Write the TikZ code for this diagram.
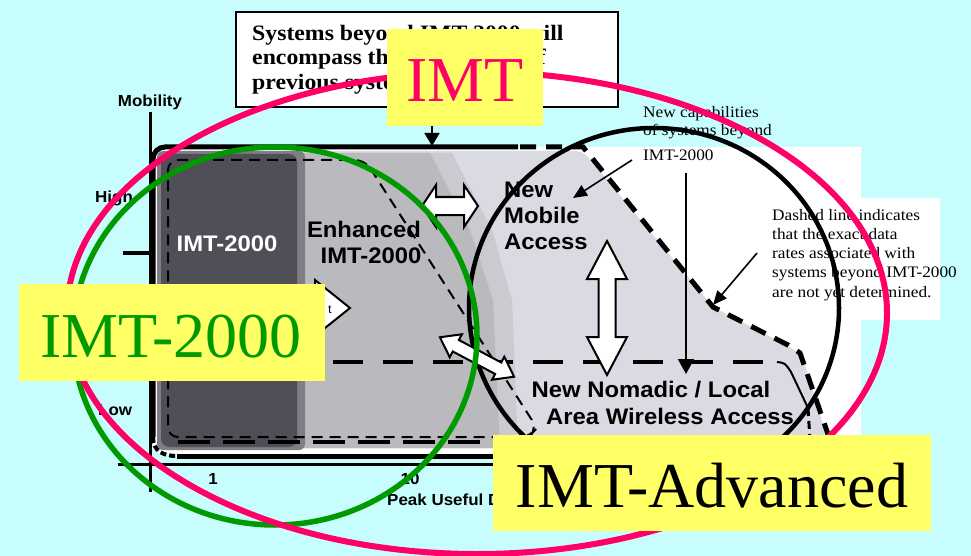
\documentclass[tikz,border=0pt]{standalone}
\usepackage{fontspec}
\setmainfont{Liberation Serif}
\newfontfamily\serifwide[FakeStretch=1.08]{Liberation Serif}
\newfontfamily\sanswide[FakeStretch=1.06]{Liberation Sans}
\usetikzlibrary{arrows.meta}
\definecolor{bgcyan}{RGB}{199,253,253}
\definecolor{imtpink}{RGB}{255,0,102}
\definecolor{imtgreen}{RGB}{0,153,0}
\definecolor{labelyellow}{RGB}{255,255,102}
\definecolor{darkcol}{RGB}{80,78,86}
\definecolor{darkedge}{RGB}{128,126,132}
\definecolor{enhgray}{RGB}{186,186,190}
\definecolor{enhedge}{RGB}{202,202,208}
\definecolor{lightfill}{RGB}{218,218,226}
\newcommand{\blockdblarrow}[7]{%
\begin{scope}[shift={(#1,#2)},rotate=#3]
\draw[line width=2pt, fill=white, line join=miter]
 (-#4,0) -- (-#4+#5,#6) -- (-#4+#5,#7) -- (#4-#5,#7) -- (#4-#5,#6) -- (#4,0)
 -- (#4-#5,-#6) -- (#4-#5,-#7) -- (-#4+#5,-#7) -- (-#4+#5,-#6) -- cycle;
\end{scope}}
\begin{document}
\begin{tikzpicture}[x=1pt,y=-1pt,
  topbold/.style={font=\serifwide\bfseries\fontsize{22}{25}\selectfont, inner sep=0, anchor=base west},
  ann/.style={font=\serifwide\fontsize{16}{19}\selectfont, inner sep=0, anchor=base west},
  charttext/.style={font=\sanswide\bfseries\fontsize{22.5}{26}\selectfont, inner sep=0},
  axislabel/.style={font=\sanswide\bfseries\fontsize{16}{19}\selectfont, inner sep=0},
  biglabel/.style={font=\fontsize{64}{70}\selectfont, inner sep=0, anchor=base},
  thickdash/.style={line width=5pt, dash pattern=on 16pt off 10pt},
  thindash/.style={line width=2pt, dash pattern=on 11pt off 7pt},
  annarrow/.style={line width=1.6pt, -{Triangle[length=14pt,width=12pt]}}
]
\useasboundingbox (0,0) rectangle (971,556);
\fill[bgcyan] (0,0) rectangle (971,556);

% top statement box
\draw[line width=2pt, fill=white] (236,12) rectangle (618,107);
\node[topbold] (boxl1) at (252,41) {Systems beyond IMT-2000 will};
\node[topbold] (boxl2) at (252,65) {encompass the capabilities of};
\node[topbold] (boxl3) at (252,90) {previous systems};
\coordinate (boxbottom) at (432,107);
\coordinate (frametop) at (432,146);
\draw[line width=1.6pt, -{Triangle[length=13pt,width=15pt]}] (boxbottom) -- (frametop);

% white annotation area
\fill[white] (515,147) -- (861,147) -- (861,198) -- (940,198) -- (940,320) -- (861,320) -- (861,448) -- (515,448) -- cycle;

% chart fills
\fill[white, rounded corners=12pt] (153,148) rectangle (520,455);
\fill[lightfill, rounded corners=8pt] (158,151) -- (583,151) -- (713,307) -- (790,347) -- (802,355) -- (830,448) -- (158,448) -- cycle;
\fill[enhedge] (297,153) -- (452,153) -- (492,230) -- (512,300) -- (518,448) -- (297,448) -- cycle;
\fill[enhgray] (297,153) -- (430,153) -- (470,230) -- (493,300) -- (500,448) -- (297,448) -- cycle;
\fill[darkedge, rounded corners=6pt] (157,151) rectangle (305,450);
\fill[darkcol, rounded corners=8pt] (161,154) rectangle (297,447);

% dashed boundaries
\draw[thindash, rounded corners=10pt] (365,160) -- (537,428) -- (530,437) -- (168,437) -- (168,160) -- cycle;
\draw[line width=4pt, dash pattern=on 30pt off 20pt] (333,362) -- (777,362);
\draw[line width=2pt] (777,362) .. controls (785,363) .. (791,372) -- (808,408);
\draw[line width=3pt, dash pattern=on 8pt off 5pt] (808,408) -- (810,440);
\draw[line width=4pt, dash pattern=on 32pt off 13pt] (178,442) -- (812,442);
\draw[thickdash] (520,147) -- (583,147) -- (713,307) -- (788,345) -- (800,353) -- (830,440);

% frame and axes
\draw[line width=5pt, rounded corners=12pt] (153,437) -- (153,147) -- (518,147);
\draw[line width=5pt] (177,456) -- (520,456);
\draw[line width=4pt, dash pattern=on 6pt off 3pt] (153,437) .. controls (153,451) and (163,456) .. (177,456);
\draw[line width=3pt] (150,112) -- (150,492);
\draw[line width=3pt] (118,464) -- (520,464);
\draw[line width=3.5pt] (123,253) -- (150,253);

% axis labels
\node[axislabel, anchor=base] (mobility) at (150,107) {Mobility};
\node[axislabel, anchor=base west] (high) at (95,203) {High};
\node[axislabel, anchor=base west] (low) at (98,415) {Low};
\node[axislabel, anchor=base] (one) at (213,484) {1};
\node[axislabel, anchor=base] (ten) at (410,484) {10};
\node[axislabel, anchor=base west] (xlabel) at (387,505) {Peak Useful Data Rate (Mbit/s)};

% chart texts
\node[charttext, text=white, anchor=base] (imtcol) at (227,251) {IMT-2000};
\node[charttext, anchor=base] (enh1) at (364,237) {Enhanced};
\node[charttext, anchor=base] (enh2) at (371,263) {IMT-2000};
\node[charttext, anchor=base west] (nm1) at (504,197) {New};
\node[charttext, anchor=base west] (nm2) at (504,223) {Mobile};
\node[charttext, anchor=base west] (nm3) at (504,249) {Access};
\node[charttext, anchor=base] (nn1) at (651,397) {New Nomadic / Local};
\node[charttext, anchor=base] (nn2) at (670,424) {Area Wireless Access};

% annotation texts
\node[ann] (cap1) at (643,118) {New capabilities};
\node[ann] (cap2) at (643,136) {of systems beyond};
\node[ann] (cap3) at (643,161) {IMT-2000};
\node[ann] (dl1) at (772,220) {Dashed line indicates};
\node[ann] (dl2) at (772,239) {that the exact data};
\node[ann] (dl3) at (772,258) {rates associated with};
\node[ann] (dl4) at (772,277) {systems beyond IMT-2000};
\node[ann] (dl5) at (772,297) {are not yet determined.};

% annotation arrows
\coordinate (capsrc) at (632,160);
\coordinate (captgt) at (573,198);
\draw[annarrow] (capsrc) -- (captgt);
\coordinate (vsrc) at (686,173);
\coordinate (vtgt) at (686,374);
\draw[line width=2pt, -{Triangle[length=15pt,width=16pt]}] (vsrc) -- (vtgt);
\coordinate (dsrc) at (757,253);
\coordinate (dtgt) at (713,305);
\draw[annarrow] (dsrc) -- (dtgt);

% black circle
\draw[line width=4.5pt] (654,308) ellipse [x radius=185pt, y radius=180pt];

% enhancement arrow (mostly hidden)
\draw[line width=2pt, fill=white, line join=miter] (200,290) -- (315,290) -- (315,280) -- (350,308) -- (315,336) -- (315,326) -- (200,326) -- cycle;
\node[font=\sanswide\fontsize{12}{14}\selectfont, inner sep=0, anchor=base] (enht) at (330,313) {t};

% block double arrows
\blockdblarrow{450}{206}{0}{28}{14}{21}{9}
\blockdblarrow{607}{308}{90}{67}{38}{20}{8.5}
\blockdblarrow{477}{357}{-28}{42}{18}{13}{6.5}

% ellipses
\draw[imtgreen, line width=5.5pt] (275,336) ellipse [x radius=202pt, y radius=189pt];
\draw[imtpink, line width=6pt] (477,313) ellipse [x radius=410pt, y radius=241pt];

% yellow labels
\fill[labelyellow] (387,29) rectangle (543,126);
\node[biglabel, text=imtpink] (imtlab) at (465,102) {IMT};
\fill[labelyellow] (19,284) rectangle (325,381);
\node[biglabel, text=imtgreen] (imt2000lab) at (171,357) {IMT-2000};
\fill[labelyellow] (493,435) rectangle (931,531);
\node[biglabel, text=black] (advlab) at (712,507) {IMT-Advanced};
\end{tikzpicture}
\end{document}
